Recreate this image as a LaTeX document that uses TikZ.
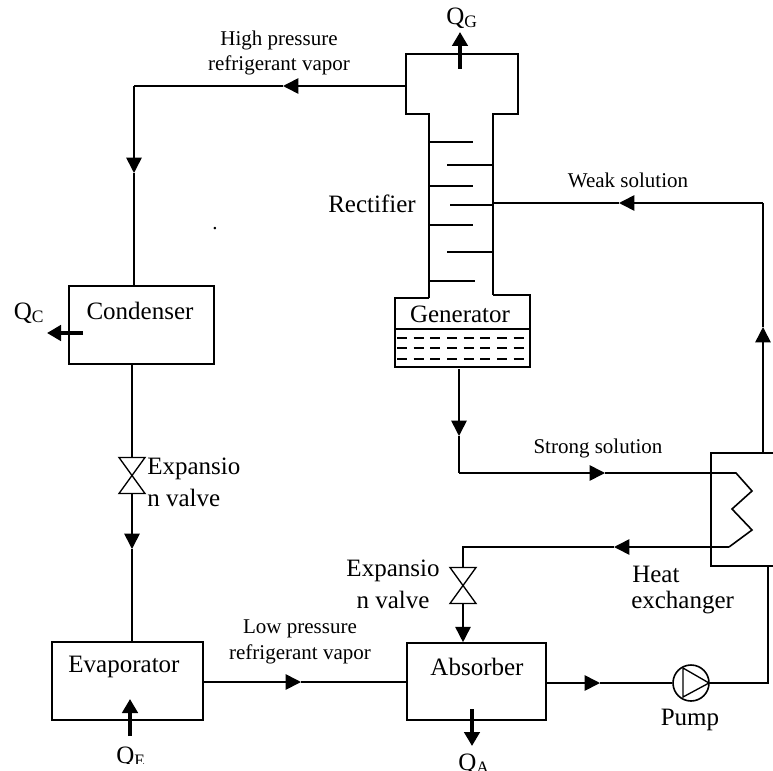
\documentclass[tikz,border=0pt]{standalone}
\usepackage{fontspec}
\setmainfont{Liberation Serif}
\usetikzlibrary{arrows.meta, calc, positioning}

\tikzset{
    pipe/.style={line width=1.2pt},
    flow/.style={pipe, -{Triangle[length=11.5pt,width=11.5pt]}},
    heat/.style={line width=3.4pt, -{Triangle[length=10.5pt,width=11.5pt]}},
    unitbox/.style={draw, pipe, rectangle, inner sep=0pt},
    biglabel/.style={inner sep=0pt, font=\fontsize{18.75}{21.75}\selectfont},
    smalllabel/.style={inner sep=0pt, align=center, font=\fontsize{15.75}{19}\selectfont},
    valve/.pic={
        \draw[line width=1pt] (-13,-18) -- (13,-18) -- (-13,18) -- (13,18) -- cycle;
        \coordinate (-top) at (0,-18);
        \coordinate (-bot) at (0,18);
    }
}

\begin{document}
\begin{tikzpicture}[x=0.75pt, y=-0.75pt]

    \useasboundingbox (0,0) rectangle (773,770);

    % Units
    \node[unitbox, minimum width=108.75pt, minimum height=58.5pt] (condenser) at (141.5,325) {};
    \node[unitbox, minimum width=113.25pt, minimum height=58.5pt] (evaporator) at (127.5,681) {};
    \node[unitbox, minimum width=104.25pt, minimum height=57.75pt] (absorber) at (476.5,681.5) {};
    \node[biglabel] (condenserlabel) at (140,311) {Condenser};
    \node[biglabel] (evaporatorlabel) at (124,667) {Evaporator};
    \node[biglabel] (absorberlabel) at (477,667) {Absorber};

    % Rectifier column and generator
    \draw[pipe] (429,298) -- (429,114) -- (406,114) -- (406,54) -- (518,54) -- (518,114) -- (493,114) -- (493,295);
    \draw[pipe] (429,298) -- (395,298) -- (395,367) -- (530,367) -- (530,295) -- (493,295);
    \draw[pipe] (395,329) -- (530,329);
    \foreach \y in {338,348,359} {
        \draw[pipe, dash pattern=on 7.5pt off 5pt] (397,\y) -- (529,\y);
    }
    \foreach \y/\xa in {142/473,186/473,225/473,281/475} {
        \draw[pipe] (429,\y) -- (\xa,\y);
    }
    \foreach \y/\xa in {165/447,205/450,252/447} {
        \draw[pipe] (\xa,\y) -- (493,\y);
    }
    \node[biglabel] (rectifierlabel) at (372,204) {Rectifier};
    \node[biglabel] (generatorlabel) at (460,314) {Generator};

    % Heat exchanger
    \draw[pipe] (773,453) -- (711,453) -- (711,566) -- (773,566);
    \node[biglabel, anchor=west] (heatlabel) at (632,574) {Heat};
    \node[biglabel, anchor=west] (exchangerlabel) at (631,603) {exchanger};

    % Pump
    \node[draw, pipe, circle, minimum size=27pt, inner sep=0pt] (pump) at (691,683) {};
    \draw[line width=1pt] (683,668) -- (709,683) -- (683,697) -- cycle;
    \node[biglabel] (pumplabel) at (690,720) {Pump};

    % Valves
    \pic (valvecond) at (132,475.5) {valve};
    \pic (valveabs) at (463,585.5) {valve};
    \node[biglabel, anchor=west] (valvecondone) at (147,469) {Expansio};
    \node[biglabel, anchor=west] (valvecondtwo) at (147,498) {n valve};
    \node[biglabel] (valveabsone) at (393,571) {Expansio};
    \node[biglabel] (valveabstwo) at (393,600) {n valve};

    % Refrigerant loop
    \coordinate (hightip) at (283,86);
    \coordinate (highcorner) at (134,86);
    \coordinate (downtip) at (134,173);
    \coordinate (condtip) at (132,549);
    \coordinate (lowtip) at (301,682);
    \draw[flow] (407,86) -- (hightip);
    \draw[pipe] (hightip) -- (highcorner);
    \draw[flow] (highcorner) -- (downtip);
    \draw[pipe] (downtip) -- (condenser.north -| downtip);
    \draw[pipe] (condenser.south -| valvecond-top) -- (valvecond-top);
    \draw[flow] (valvecond-bot) -- (condtip);
    \draw[pipe] (condtip) -- (evaporator.north -| condtip);
    \draw[flow] (lowtip -| evaporator.east) -- (lowtip);
    \draw[pipe] (lowtip) -- (lowtip -| absorber.west);

    % Solution loop
    \coordinate (weaktip) at (619,203);
    \coordinate (weakcorner) at (763,203);
    \coordinate (uptip) at (763,327);
    \coordinate (gentip) at (459,436);
    \coordinate (strongcorner) at (459,473);
    \coordinate (strongtip) at (605,473);
    \coordinate (returntip) at (614,547);
    \coordinate (returncorner) at (463,547);
    \coordinate (abstip) at (600,683);
    \coordinate (pumpcorner) at (768,683);
    \draw[flow] (763,453) -- (uptip);
    \draw[pipe] (uptip) -- (weakcorner);
    \draw[flow] (weakcorner) -- (weaktip);
    \draw[pipe] (weaktip) -- (493,203);
    \draw[flow] (459,369) -- (gentip);
    \draw[pipe] (gentip) -- (strongcorner);
    \draw[flow] (strongcorner) -- (strongtip);
    \draw[pipe] (strongtip) -- (736,473) -- (752,491) -- (732,509) -- (752,530) -- (729,547);
    \draw[flow] (729,547) -- (returntip);
    \draw[pipe] (returntip) -- (returncorner) -- (valveabs-top);
    \draw[flow] (valveabs-bot) -- (absorber.north -| valveabs-bot);
    \draw[flow] (abstip -| absorber.east) -- (abstip);
    \draw[pipe] (abstip) -- (pump.west);
    \draw[pipe] (pump.east) -- (pumpcorner) -- (768,566);

    % Heat flows
    \draw[heat] (460,69) -- (460,32);
    \draw[heat] (83,333) -- (47,333);
    \draw[heat] (130,736) -- (130,699);
    \draw[heat] (472,709) -- (472,746);
    \node[biglabel] (qg) at (462,18) {Q\textsubscript{G}};
    \node[biglabel] (qc) at (29,313) {Q\textsubscript{C}};
    \node[biglabel] (qa) at (474,764) {Q\textsubscript{A}};
    \begin{scope}
        \clip (0,0) rectangle (773,763);
        \node[biglabel] (qe) at (131,757) {Q\textsubscript{E}};
    \end{scope}

    % Stream labels
    \node[smalllabel] (highlabel) at (279,53) {High pressure\\refrigerant vapor};
    \node[smalllabel] (lowlabel) at (300,642) {Low pressure\\refrigerant vapor};
    \node[smalllabel] (weaklabel) at (628,180) {Weak solution};
    \node[smalllabel] (stronglabel) at (598,448) {Strong solution};
    \node[smalllabel] (dotlabel) at (215,229) {.};

\end{tikzpicture}
\end{document}
